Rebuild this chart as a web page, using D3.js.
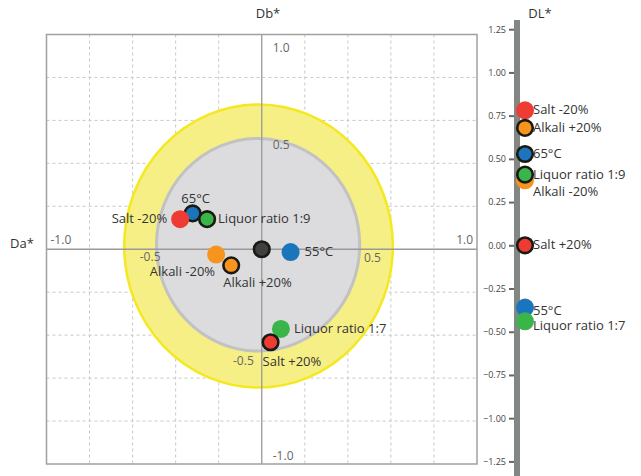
<!DOCTYPE html>
<html>
<head>
<meta charset="utf-8">
<script src="https://cdn.jsdelivr.net/npm/d3@7"></script>
<style>
  html, body { margin: 0; padding: 0; background: #fff; }
  svg { display: block; font-family: "Open Sans", "Noto Sans", sans-serif; }
</style>
</head>
<body>
<svg id="chart" width="641" height="476"></svg>
<script>
// ---- data ----
const treatments = ["Control", "Salt -20%", "Salt +20%", "Alkali -20%", "Alkali +20%", "55°C", "65°C", "Liquor ratio 1:7", "Liquor ratio 1:9"];
const da = [0, -0.379, 0.041, -0.212, -0.142, 0.134, -0.321, 0.089, -0.254];
const db = [0, 0.140, -0.433, -0.025, -0.075, -0.013, 0.167, -0.371, 0.140];
const dl = [null, 0.781, 0.0, 0.376, 0.679, -0.36, 0.528, -0.44, 0.409];
const outlined = [true, false, true, false, true, false, true, false, true];
const colorGroup = ["control", "salt", "salt", "alkali", "alkali", "temp", "temp", "liquor", "liquor"];

const planeTicks = [-1.0, -0.5, 0.5, 1.0];
const planeTickLabels = ["-1.0", "-0.5", "0.5", "1.0"];
const gridValues = [-0.8, -0.6, -0.4, -0.2, 0.2, 0.4, 0.6, 0.8];
const dlTicks = [1.25, 1.0, 0.75, 0.5, 0.25, 0, -0.25, -0.5, -0.75, -1.0, -1.25];

// tolerance zones (ellipses in Da*/Db* units): [cx, cy, rx, ry]
const outerZone = [-0.015, 0.015, 0.624, 0.659];
const innerZone = [-0.017, 0.021, 0.472, 0.495];

// ---- styles / layout ----
const colors = { control: "#404040", salt: "#ee3b33", alkali: "#f7941d", temp: "#1b75bc", liquor: "#39b54a" };
// label placement in main plane: [anchor, dx, dy]
const planeLabelPos = {
  "Salt -20%": ["end", -13, 4],
  "65°C": ["middle", 3, -10],
  "Liquor ratio 1:9": ["start", 11, 4],
  "55°C": ["start", 14, 4],
  "Alkali -20%": ["end", -1, 21],
  "Alkali +20%": ["start", -8, 22],
  "Liquor ratio 1:7": ["start", 13, 4],
  "Salt +20%": ["start", -8, 24]
};
const dlLabelDy = { "Alkali -20%": 12, "55°C": 3, "Liquor ratio 1:7": 5 };
// draw order
const planeOrder = [6, 1, 8, 3, 4, 0, 5, 7, 2];
const dlOrder = [1, 4, 6, 3, 8, 2, 5, 7];

const svg = d3.select("#chart");
const x = d3.scaleLinear().domain([-1, 1]).range([46.5, 477]);
const y = d3.scaleLinear().domain([-1, 1]).range([464, 34.5]);
const yDL = d3.scaleLinear().domain([-1.25, 1.25]).range([461.4, 29.2]);

// frame background
svg.append("rect").attr("x", x(-1)).attr("y", y(1))
  .attr("width", x(1) - x(-1)).attr("height", y(-1) - y(1))
  .attr("fill", "#fff");

// grid
const grid = svg.append("g").attr("stroke", "#c8c8c8").attr("stroke-width", 1).attr("stroke-dasharray", "3,3");
grid.selectAll(".gv").data(gridValues).join("line")
  .attr("x1", d => x(d)).attr("x2", d => x(d)).attr("y1", y(1)).attr("y2", y(-1));
grid.selectAll(".gh").data(gridValues).join("line")
  .attr("y1", d => y(d)).attr("y2", d => y(d)).attr("x1", x(-1)).attr("x2", x(1));

// zones
function zone(z, fill, stroke, sw) {
  svg.append("ellipse")
    .attr("cx", x(z[0])).attr("cy", y(z[1]))
    .attr("rx", x(z[2]) - x(0)).attr("ry", y(0) - y(z[3]))
    .attr("fill", fill).attr("stroke", stroke).attr("stroke-width", sw);
}
zone(outerZone, "#f6ef86", "#f4e820", 2.5);
zone(innerZone, "#dcdcde", "#c2c2c2", 3);

// axes through origin
svg.append("line").attr("x1", x(0)).attr("x2", x(0)).attr("y1", y(1)).attr("y2", y(-1))
  .attr("stroke", "#9a9a9a").attr("stroke-width", 1.3);
svg.append("line").attr("y1", y(0)).attr("y2", y(0)).attr("x1", x(-1)).attr("x2", x(1))
  .attr("stroke", "#9a9a9a").attr("stroke-width", 1.3);

// frame
svg.append("rect").attr("x", x(-1)).attr("y", y(1))
  .attr("width", x(1) - x(-1)).attr("height", y(-1) - y(1))
  .attr("fill", "none").attr("stroke", "#a0a0a0").attr("stroke-width", 1.5);

// tick labels on the plane
const tl = svg.append("g").attr("font-size", 12).attr("fill", "#666");
const xLabelPos = [["start", 4, -5], ["middle", -4, 12], ["middle", 3, 13], ["end", -4, -5]];
planeTicks.forEach((v, i) => {
  const p = xLabelPos[i];
  tl.append("text").attr("x", x(v) + p[1]).attr("y", y(0) + p[2])
    .attr("text-anchor", p[0]).text(planeTickLabels[i]);
});
const yLabelPos = [["start", 11, -4], ["end", -8, 8], ["start", 11, 7], ["start", 11, 17]];
planeTicks.forEach((v, i) => {
  const p = yLabelPos[i];
  tl.append("text").attr("x", x(0) + p[1]).attr("y", y(v) + p[2])
    .attr("text-anchor", p[0]).text(planeTickLabels[i]);
});

// axis titles
const at = svg.append("g").attr("font-size", 13).attr("fill", "#333");
at.append("text").attr("x", 268).attr("y", 18).attr("text-anchor", "middle").text("Db*");
at.append("text").attr("x", 10).attr("y", 248).text("Da*");
at.append("text").attr("x", 540).attr("y", 18).attr("text-anchor", "middle").text("DL*");

// points on plane
function dot(g, cx, cy, i) {
  g.append("circle").attr("cx", cx).attr("cy", cy)
    .attr("r", outlined[i] ? 7.8 : 9)
    .attr("fill", colors[colorGroup[i]])
    .attr("stroke", outlined[i] ? "#1a1a14" : "none")
    .attr("stroke-width", outlined[i] ? 2.6 : 0);
}
const pg = svg.append("g");
planeOrder.forEach(i => dot(pg, x(da[i]), y(db[i]), i));
const lg = svg.append("g").attr("font-size", 13).attr("fill", "#333");
planeOrder.forEach(i => {
  const p = planeLabelPos[treatments[i]];
  if (!p) return;
  lg.append("text").attr("x", x(da[i]) + p[1]).attr("y", y(db[i]) + p[2])
    .attr("text-anchor", p[0]).text(treatments[i]);
});

// DL axis
const dlX = 517;
svg.append("rect").attr("x", dlX - 3).attr("y", 20).attr("width", 6).attr("height", 460).attr("fill", "#828784");
const dlAxis = svg.append("g").attr("transform", `translate(${dlX - 3},0)`)
  .call(d3.axisLeft(yDL).tickValues(dlTicks).tickSize(5).tickFormat(d3.format(".2f")));
dlAxis.select(".domain").remove();
dlAxis.selectAll(".tick line").attr("stroke", "#666").attr("stroke-width", 2);
dlAxis.selectAll(".tick text").attr("font-size", 9).attr("fill", "#444")
  .attr("font-family", "'Open Sans', sans-serif").attr("x", -8);

const dg = svg.append("g");
dlOrder.forEach(i => dot(dg, dlX + 8, yDL(dl[i]), i));
const dlg = svg.append("g").attr("font-size", 13).attr("fill", "#333");
dlOrder.forEach(i => {
  dlg.append("text").attr("x", dlX + 16).attr("y", yDL(dl[i]) + 4 + (dlLabelDy[treatments[i]] || 0))
    .text(treatments[i]);
});
</script>
</body>
</html>
